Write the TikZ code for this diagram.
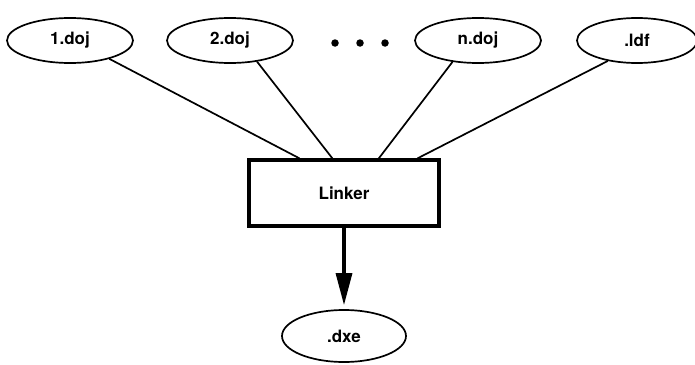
\documentclass[tikz,border=0pt]{standalone}
\usepackage{fontspec}
\setmainfont{TeX Gyre Heros}
\usetikzlibrary{arrows.meta,calc,shapes.geometric}
\begin{document}
\begin{tikzpicture}[x=1pt,y=-1pt,
  file/.style={draw,ellipse,line width=1.7pt,minimum width=126pt,minimum height=45pt,inner sep=0pt,font=\fontsize{17}{19}\selectfont\bfseries},
  tool/.style={draw,rectangle,line width=3.2pt,minimum width=190pt,minimum height=66pt,inner sep=0pt,font=\fontsize{17}{19}\selectfont\bfseries},
  dot/.style={circle,fill=black,minimum size=7.5pt,inner sep=0pt},
  link/.style={line width=1.7pt},
  flow/.style={line width=3.2pt,-{Triangle[length=32pt,width=16pt]},shorten >=4pt}]
\useasboundingbox (0,0) rectangle (695,364);
\node[file] (d1) at (70,40.5) {1.doj};
\node[file] (d2) at (230,40.5) {2.doj};
\node[file] (dn) at (478,40.5) {n.doj};
\node[file,minimum width=120pt] (ldf) at (637,40.5) {.ldf};
\node[dot] (p1) at (335,43) {};
\node[dot] (p2) at (360,43) {};
\node[dot] (p3) at (385,43) {};
\node[tool] (lk) at (344,193) {Linker};
\node[file,minimum width=124pt,minimum height=52pt] (dxe) at (344,336) {.dxe};
\coordinate (t1) at ($(lk.north west)!0.27!(lk.north east)$);
\coordinate (t2) at ($(lk.north west)!0.44!(lk.north east)$);
\coordinate (t3) at ($(lk.north west)!0.68!(lk.north east)$);
\coordinate (t4) at ($(lk.north west)!0.88!(lk.north east)$);
\draw[link] (d1.-25) -- (t1);
\draw[link] (d2.-38) -- (t2);
\draw[link] (dn.-140) -- (t3);
\draw[link] (ldf.-145) -- (t4);
\draw[flow] (lk) -- (dxe);
\end{tikzpicture}
\end{document}
